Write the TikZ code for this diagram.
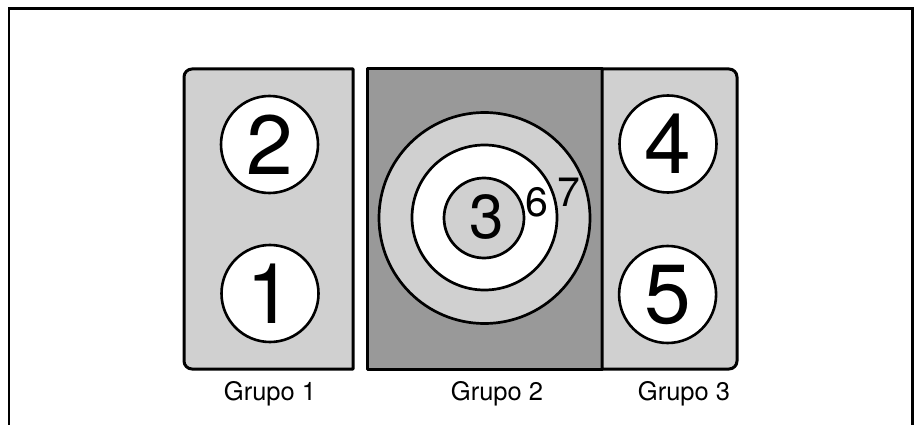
\documentclass[tikz,border=0pt]{standalone}
\usepackage{fontspec}
\setmainfont{TeX Gyre Heros}
\definecolor{lg}{gray}{0.815}
\definecolor{dg}{gray}{0.6}
\begin{document}
\begin{tikzpicture}[x=1pt,y=-1pt,
  groupbox/.style={draw=black,line width=3pt,line join=round},
  disc/.style={circle,draw=black,line width=2.6pt,fill=white,minimum size=97pt,inner sep=0pt,
    font=\fontsize{84}{88}\selectfont},
  ring/.style={circle,draw=black,line width=2.7pt,inner sep=0pt},
  bignum/.style={inner sep=0pt,font=\fontsize{62}{66}\selectfont},
  smallnum/.style={inner sep=0pt,font=\fontsize{41}{46}\selectfont},
  grlabel/.style={inner sep=0pt,font=\fontsize{25.5}{30}\selectfont}]
\useasboundingbox (0,0) rectangle (921,425);
% outer frame (open at bottom)
\draw[line width=2.5pt,line join=miter] (9.2,430) -- (9.2,8.3) -- (912.6,8.3) -- (912.6,430);
% group 1
\draw[groupbox,fill=lg] (353,69) -- (192,69) arc[start angle=-90,end angle=-180,radius=8]
  -- (184,361) arc[start angle=180,end angle=90,radius=8] -- (353,369) -- cycle;
% group 2
\draw[groupbox,fill=dg] (367,69) rectangle (602,369);
% group 3
\draw[groupbox,fill=lg] (602,69) -- (729,69) arc[start angle=-90,end angle=0,radius=8]
  -- (737,361) arc[start angle=0,end angle=90,radius=8] -- (602,369) -- cycle;
% burners group 1 and 3
\node[disc] (c2) at (269.5,144.5) {2};
\node[disc] (c1) at (270,293.5) {1};
\node[disc] (c4) at (668,144) {4};
\node[disc] (c5) at (667.6,294.5) {5};
% concentric burner
\node[ring,fill=lg,minimum size=211pt] (c7) at (484.5,218) {};
\node[ring,fill=white,minimum size=145pt] (c6) at (484.5,217.5) {};
\node[ring,fill=lg,minimum size=80pt] (c3) at (484,218) {};
\node[bignum] (n3) at (486.5,217) {3};
\node[smallnum] (n6) at (537,202) {6};
\node[smallnum] (n7) at (569,192) {7};
% labels
\node[grlabel] (g1) at (270,394) {Grupo 1};
\node[grlabel] (g2) at (497,394) {Grupo 2};
\node[grlabel] (g3) at (684,394) {Grupo 3};
\end{tikzpicture}
\end{document}
